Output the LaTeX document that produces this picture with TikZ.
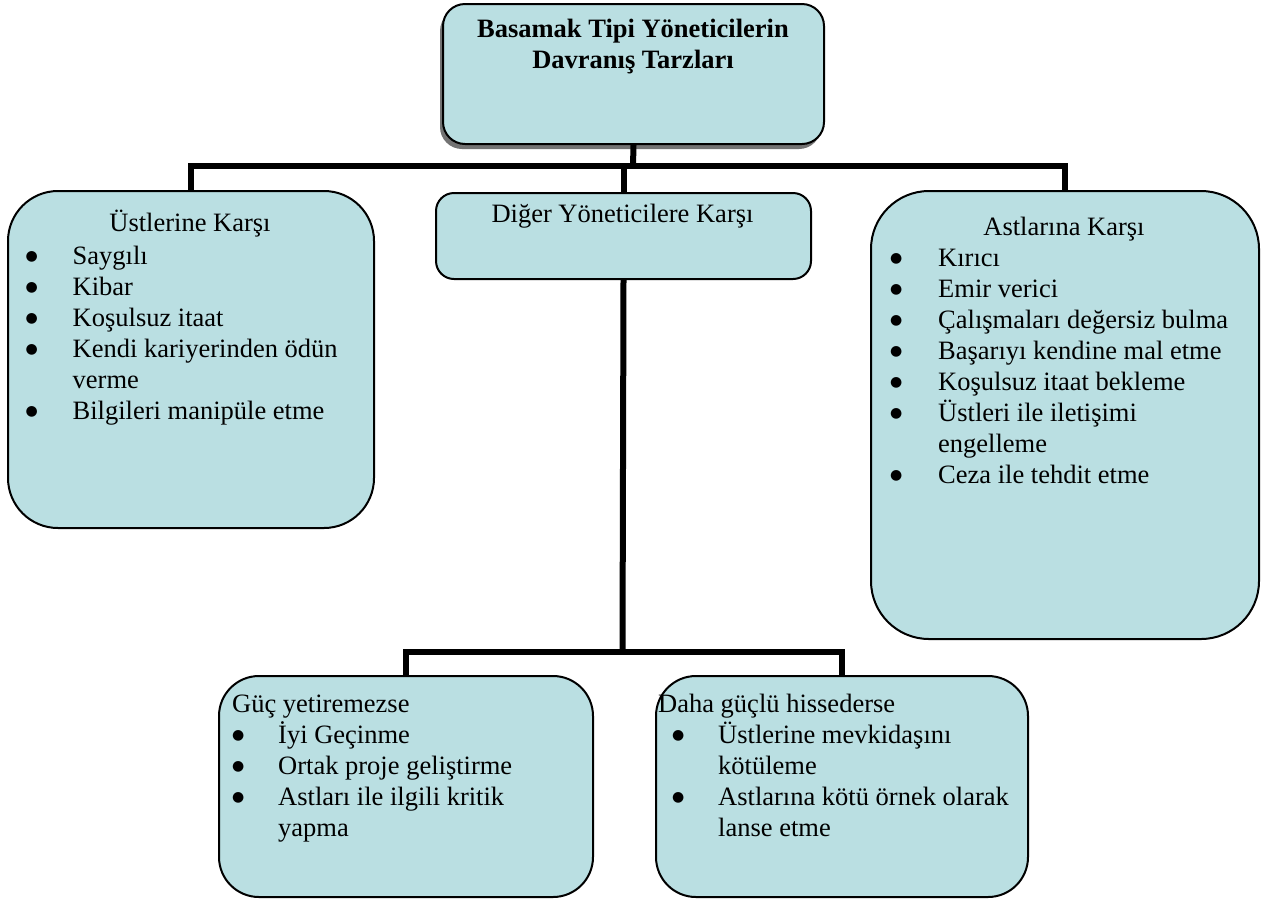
\documentclass[tikz,border=0pt]{standalone}
\usepackage{fontspec}
\setmainfont{Liberation Serif}
\newfontfamily\mysymfont{DejaVu Sans}
\usetikzlibrary{shadows}
\definecolor{boxfill}{RGB}{186,223,226}
\newcommand{\myblt}[1]{\makebox[#1][l]{\raisebox{4pt}{\mysymfont\fontsize{14}{16}\selectfont ●}}}
\newcommand{\myind}[1]{\hspace*{#1}}
\begin{document}
\begin{tikzpicture}[x=1pt,y=-1pt,
  box/.style={draw=black, line width=2pt, fill=boxfill, inner sep=0pt, anchor=north west},
  conn/.style={draw=black, line width=6pt},
  txt/.style={inner sep=0pt, font=\fontsize{26.5}{31}\selectfont}]
\useasboundingbox (0,0) rectangle (1261,898);

% boxes
\node[box, rounded corners=22pt, minimum width=381pt, minimum height=140pt,
      drop shadow={shadow xshift=-3pt, shadow yshift=-5pt, fill=black!55, opacity=1}] (T) at (442,3) {};
\node[box, rounded corners=50pt, minimum width=366pt, minimum height=337pt] (L) at (7,190) {};
\node[box, rounded corners=18pt, minimum width=375pt, minimum height=86pt] (C) at (435,192) {};
\node[box, rounded corners=58pt, minimum width=388pt, minimum height=448pt] (R) at (870,190) {};
\node[box, rounded corners=40pt, minimum width=374pt, minimum height=221pt] (BL) at (218,675) {};
\node[box, rounded corners=40pt, minimum width=372pt, minimum height=221pt] (BR) at (655,675) {};

% connectors
\coordinate (bar) at (633,166);
\coordinate (bar2) at (622.5,652);
\draw[conn] (T.south) -- (bar);
\draw[conn] (L.north) |- (bar) -| (R.north);
\draw[conn] (C.north) -- (C.north |- bar);
\draw[conn] (C.south) -- (bar2);
\draw[conn] (BL.north) |- (bar2) -| (BR.north);

% texts
\node[txt, anchor=base] (Tt) at (633,37)
  {\begin{tabular}[t]{@{}c@{}}\bfseries Basamak Tipi Yöneticilerin\\ \bfseries Davranış Tarzları\end{tabular}};

\node[txt, anchor=base] (Lt) at (190,231) {Üstlerine Karşı};
\node[txt, anchor=base west] (Lb) at (25.5,264)
  {\begin{tabular}[t]{@{}l@{}}
  \myblt{47pt}Saygılı\\
  \myblt{47pt}Kibar\\
  \myblt{47pt}Koşulsuz itaat\\
  \myblt{47pt}Kendi kariyerinden ödün\\
  \myind{47pt}verme\\
  \myblt{47pt}Bilgileri manipüle etme
  \end{tabular}};

\node[txt, anchor=base] (Ct) at (622.5,222) {Diğer Yöneticilere Karşı};

\node[txt, anchor=base] (Rt) at (1064,235) {Astlarına Karşı};
\node[txt, anchor=base west] (Rb) at (890,266)
  {\begin{tabular}[t]{@{}l@{}}
  \myblt{48pt}Kırıcı\\
  \myblt{48pt}Emir verici\\
  \myblt{48pt}Çalışmaları değersiz bulma\\
  \myblt{48pt}Başarıyı kendine mal etme\\
  \myblt{48pt}Koşulsuz itaat bekleme\\
  \myblt{48pt}Üstleri ile iletişimi\\
  \myind{48pt}engelleme\\
  \myblt{48pt}Ceza ile tehdit etme
  \end{tabular}};

\node[txt, anchor=base west] (BLt) at (232,712) {Güç yetiremezse};
\node[txt, anchor=base west] (BLb) at (232,743)
  {\begin{tabular}[t]{@{}l@{}}
  \myblt{46pt}İyi Geçinme\\
  \myblt{46pt}Ortak proje geliştirme\\
  \myblt{46pt}Astları ile ilgili kritik\\
  \myind{46pt}yapma
  \end{tabular}};

\node[txt, anchor=base west] (BRt) at (658,712) {Daha güçlü hissederse};
\node[txt, anchor=base west] (BRb) at (672,743)
  {\begin{tabular}[t]{@{}l@{}}
  \myblt{46pt}Üstlerine mevkidaşını\\
  \myind{46pt}kötüleme\\
  \myblt{46pt}Astlarına kötü örnek olarak\\
  \myind{46pt}lanse etme
  \end{tabular}};
\end{tikzpicture}
\end{document}
